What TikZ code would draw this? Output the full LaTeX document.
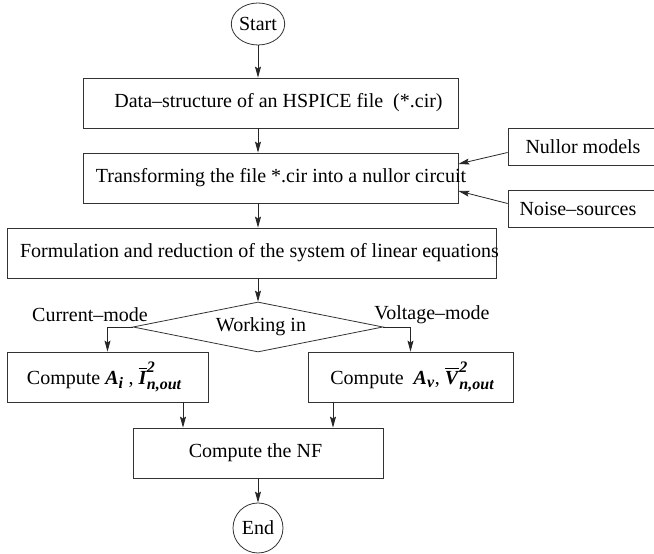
\documentclass[tikz,border=0pt]{standalone}
\usepackage{amsmath}
\usepackage{fontspec}
\setmainfont{Liberation Serif}
\usetikzlibrary{shapes.geometric,arrows.meta}
\newcommand{\bi}[1]{\textbf{\textit{#1}}}
\newcommand{\bs}[1]{\mbox{\fontsize{16}{18}\selectfont\bi{#1}}}
\newcommand{\shtext}[2]{\makebox[0pt]{\hspace*{#1}#2}}

\begin{document}
\begin{tikzpicture}
  [x=1pt,y=1pt,
   every node/.style={font=\fontsize{20}{24}\selectfont,inner sep=0pt},
   box/.style={draw=black!80,line width=0.8pt,minimum height=50pt},
   term/.style={draw=black!80,line width=0.8pt,ellipse,minimum width=50pt},
   arr/.style={draw=black!85,line width=0.8pt,-{Stealth[length=11pt,width=6pt,inset=2pt]}}]
  \useasboundingbox (0,0) rectangle (654,554);

  \node[term,minimum height=42pt] (start) at (258,530) {Start};
  \node[box,minimum width=375pt] (data) at (270.5,451) {\shtext{16pt}{Data--structure of an HSPICE file\ \ (*.cir)}};
  \node[box,minimum width=375pt] (trans) at (270.5,376) {\shtext{21pt}{Transforming the file *.cir into a nullor circuit}};
  \node[box,minimum width=150pt,minimum height=37pt] (nullor) at (583,407.5) {Nullor models};
  \node[box,minimum width=150pt,minimum height=37pt] (noise) at (583,345.5) {\shtext{-10pt}{Noise--sources}};
  \node[box,minimum width=489pt] (form) at (251.5,301) {\shtext{16pt}{Formulation and reduction of the system of linear equations}};
  \node[draw=black!80,line width=0.8pt,diamond,minimum width=250pt,minimum height=50pt] (work) at (258,227) {\shtext{6pt}{Working in}};
  \node (cur) at (90,239) {Current--mode};
  \node (volt) at (432,239) {Voltage--mode};
  \node[box,minimum width=201pt] (ci) at (107.5,177)
    {\shtext{-6pt}{Compute \bi{A}$_{\bs{i}}$ , $\overline{\text{\bi{I}}}^{\bs{2}}_{\bs{n,out}}$}};
  \node[box,minimum width=205pt] (cv) at (410.5,177)
    {\shtext{4pt}{Compute\ \ \bi{A}$_{\bs{v}}$, $\overline{\text{\bi{V}}}^{\bs{2}}_{\bs{n,out}}$}};
  \node[box,minimum width=250pt] (nf) at (258,101) {\shtext{-5pt}{Compute the NF}};
  \node[term,minimum height=50pt] (end) at (258,26) {End};

  \foreach \from/\to in {start/data,data/trans,trans/form,form/work,nf/end}
    \draw[arr] (\from.south -| start) -- (\to.north -| start);

  \draw[arr] ([yshift=-6pt]nullor.west) -- ([yshift=14pt]trans.east);
  \draw[arr] ([yshift=5pt]noise.west) -- ([yshift=-13pt]trans.east);
  \draw[arr] (work.west) -| (ci.north);
  \draw[arr] (work.east) -| (cv.north);
  \draw[arr] ([xshift=-75pt]nf.north) ++(0,26) -- ([xshift=-75pt]nf.north);
  \draw[arr] ([xshift=75pt]nf.north) ++(0,26) -- ([xshift=75pt]nf.north);

\end{tikzpicture}
\end{document}
